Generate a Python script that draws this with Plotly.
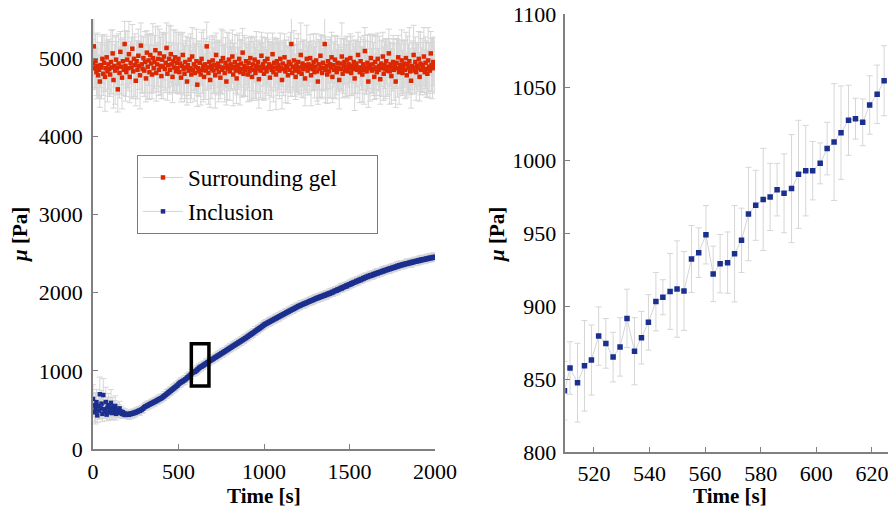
import plotly.graph_objects as go

# ---------------- data: left panel (full time course) ----------------
time_full = list(range(0, 2001, 5))

mu_gel = [
    4930, 5150, 4870, 4960, 4820, 4900, 4780, 4850, 4700, 4910, 4880, 4990, 4800, 4940, 4760, 4870, 5010, 4830, 4920, 4860,
    4790, 4950, 4880, 5060, 4720, 4900, 4840, 4980, 4870, 4600, 4930, 4810, 5080, 4890, 4750, 4960, 4850, 5180, 4900, 4820,
    4980, 4870, 5050, 4760, 4940, 4880, 5120, 4830, 4990, 4910, 4710, 4960, 4850, 5030, 4900, 4780, 5160, 4920, 4860, 5000,
    4840, 4950, 4740, 5070, 4890, 4970, 4820, 5040, 4930, 4790, 5000, 4870, 4950, 5100, 4810, 4920, 4990, 4850, 5060, 4900,
    4770, 4980, 4890, 5020, 4860, 4940, 5130, 4800, 4910, 4990, 4850, 5050, 4920, 4760, 4960, 4880, 5010, 4830, 4940, 4870,
    4990, 4820, 4930, 4750, 4900, 5040, 4860, 4800, 4950, 4880, 4700, 4910, 4840, 4980, 4870, 4790, 5020, 4850, 4920, 4810,
    4890, 4960, 4660, 4870, 4830, 4940, 4790, 4990, 4850, 4900, 4760, 4920, 4840, 5150, 4880, 4810, 4950, 4720, 4900, 4860,
    4970, 4840, 4910, 4780, 5040, 4870, 4930, 4820, 4890, 4750, 4960, 4850, 5000, 4880, 4810, 4940, 4700, 4900, 4860, 4980,
    4830, 4920, 4870, 5020, 4790, 4890, 4950, 4840, 4740, 4910, 4870, 4990, 4820, 4930, 4860, 5070, 4800, 4900, 4850, 4960,
    4880, 4790, 4940, 4830, 5000, 4870, 4760, 4920, 4850, 4980, 4810, 4900, 4860, 4950, 4730, 4890, 4840, 5030, 4870, 4920,
    4800, 4960, 4870, 4830, 4990, 4880, 4920, 4750, 4900, 4850, 5050, 4820, 4940, 4880, 4790, 4960, 4860, 4910, 4840, 4990,
    4870, 4720, 4930, 4860, 5010, 4830, 4900, 4880, 4780, 4950, 4850, 4920, 5180, 4810, 4890, 4970, 4840, 4760, 4910, 4870,
    4950, 4820, 4880, 5040, 4800, 4930, 4860, 4910, 4740, 4890, 4990, 4840, 4920, 4870, 5000, 4780, 4900, 4860, 4950, 4820,
    4890, 4970, 4830, 4700, 4920, 4860, 5030, 4880, 4810, 4940, 4870, 5180, 4850, 4900, 4790, 4960, 4830, 4920, 4880, 5010,
    4760, 4910, 4850, 4980, 4880, 4820, 4940, 4870, 4720, 4930, 4860, 5020, 4800, 4900, 4950, 4840, 4890, 4980, 4830, 4920,
    4870, 5000, 4810, 4900, 4860, 4950, 4740, 4890, 4930, 4850, 5040, 4880, 4820, 4960, 4870, 4790, 4920, 4850, 5090, 4880,
    4830, 4940, 4700, 4910, 4870, 5000, 4840, 4920, 4860, 4760, 4950, 4880, 4820, 4990, 4850, 4900, 4730, 4930, 4870, 5020,
    4800, 4910, 4860, 4960, 4840, 4890, 5060, 4830, 4920, 4770, 4880, 4950, 4850, 4900, 4700, 4940, 4870, 5010, 4820, 4910,
    4860, 4970, 4810, 4890, 4930, 4850, 5000, 4780, 4920, 4870, 4960, 4830, 4710, 4900, 4880, 5040, 4840, 4950, 4820, 4900,
    4870, 4990, 4760, 4930, 4850, 4910, 4880, 5020, 4820, 4940, 4860, 4800, 4970, 4890, 4840, 5060, 4910, 4870, 4950, 4880,
    4920,
]

err_gel = [
    310, 380, 270, 340, 300, 420, 260, 350, 330, 290, 400, 310, 280, 360, 440, 300, 270, 390, 320, 350,
    280, 410, 330, 300, 360, 270, 430, 310, 340, 290, 380, 320, 260, 350, 400, 300, 330, 290, 450, 310,
    360, 290, 420, 330, 270, 380, 310, 350, 280, 400, 320, 260, 370, 340, 300, 430, 290, 360, 310, 270,
    330, 390, 300, 280, 410, 320, 350, 270, 380, 310, 440, 290, 340, 300, 360, 280, 420, 330, 310, 370,
    290, 350, 410, 300, 270, 380, 320, 340, 290, 430, 310, 360, 280, 330, 400, 300, 350, 270, 390, 320,
    340, 280, 370, 310, 420, 290, 330, 360, 270, 400, 300, 350, 320, 280, 440, 310, 370, 290, 330, 360,
    300, 410, 280, 350, 320, 270, 390, 340, 300, 460, 290, 330, 370, 310, 280, 400, 320, 350, 290, 380,
    320, 290, 360, 420, 280, 340, 300, 380, 330, 270, 410, 310, 350, 290, 370, 320, 300, 430, 280, 340,
    370, 310, 280, 340, 400, 300, 350, 290, 320, 380, 270, 330, 420, 300, 360, 310, 280, 390, 340, 300,
    290, 350, 320, 380, 270, 410, 300, 340, 360, 290, 330, 440, 310, 280, 370, 320, 350, 300, 400, 280,
    340, 300, 390, 280, 330, 360, 290, 420, 310, 350, 270, 380, 320, 300, 450, 290, 340, 310, 360, 330,
    310, 370, 290, 340, 300, 400, 330, 280, 360, 320, 290, 410, 350, 300, 270, 380, 330, 290, 340, 310,
    360, 290, 330, 410, 300, 280, 370, 320, 350, 290, 430, 310, 280, 340, 300, 390, 320, 270, 360, 330,
    300, 340, 380, 290, 320, 360, 270, 400, 310, 350, 290, 330, 420, 300, 370, 280, 340, 310, 390, 320,
    330, 280, 360, 310, 400, 290, 340, 300, 370, 320, 280, 430, 310, 350, 290, 330, 380, 300, 340, 290,
    350, 310, 290, 380, 320, 270, 410, 340, 300, 360, 290, 330, 390, 310, 280, 350, 320, 440, 300, 340,
    290, 360, 330, 300, 420, 310, 280, 370, 340, 290, 350, 400, 300, 330, 270, 380, 320, 290, 360, 310,
    340, 300, 380, 290, 330, 360, 310, 420, 280, 350, 300, 340, 390, 290, 330, 310, 370, 280, 410, 300,
    320, 390, 290, 340, 300, 370, 330, 280, 360, 310, 430, 290, 350, 300, 340, 380, 290, 320, 360, 300,
    300, 350, 310, 400, 280, 340, 320, 370, 290, 330, 360, 300, 420, 310, 350, 280, 340, 390, 300, 330,
    350,
]

mu_inclusion = [
    640, 560, 470, 520, 600, 430, 550, 490, 700, 520, 580, 450, 690, 510, 480, 600, 440, 530, 560, 470,
    520, 590, 460, 540, 480, 510, 550, 450, 500, 470, 490, 520, 460, 480, 450, 470, 440, 455, 435, 445,
    440, 448, 437, 452, 446, 455, 450, 462, 458, 470, 466, 478, 474, 486, 490, 488, 500, 506, 512, 522,
    534, 542, 545, 553, 557, 565, 569, 577, 580, 588, 591, 600, 603, 611, 614, 623, 627, 636, 639, 647,
    651, 657, 668, 675, 687, 692, 703, 710, 722, 727, 739, 745, 756, 762, 774, 779, 791, 797, 809, 814,
    831, 838, 850, 853, 864, 866, 877, 880, 892, 898, 912, 918, 932, 934, 947, 958, 976, 978, 987, 989,
    996, 1003, 1016, 1023, 1037, 1043, 1052, 1054, 1064, 1068, 1080, 1083, 1095, 1098, 1110, 1113, 1124, 1128, 1139, 1142,
    1151, 1155, 1166, 1169, 1180, 1183, 1194, 1197, 1208, 1211, 1222, 1225, 1236, 1239, 1250, 1253, 1264, 1267, 1278, 1281,
    1292, 1295, 1306, 1309, 1320, 1323, 1334, 1337, 1348, 1351, 1362, 1365, 1376, 1379, 1390, 1393, 1404, 1407, 1418, 1421,
    1432, 1436, 1448, 1451, 1463, 1467, 1479, 1482, 1494, 1498, 1510, 1514, 1525, 1529, 1541, 1545, 1556, 1560, 1572, 1576,
    1590, 1592, 1602, 1604, 1614, 1616, 1626, 1628, 1638, 1640, 1650, 1652, 1662, 1664, 1674, 1676, 1686, 1688, 1698, 1700,
    1710, 1712, 1722, 1724, 1733, 1735, 1745, 1747, 1757, 1758, 1768, 1770, 1780, 1782, 1791, 1793, 1803, 1805, 1815, 1817,
    1827, 1828, 1837, 1838, 1846, 1847, 1856, 1857, 1865, 1866, 1875, 1876, 1884, 1885, 1894, 1895, 1903, 1904, 1913, 1914,
    1923, 1921, 1933, 1930, 1942, 1938, 1951, 1946, 1957, 1955, 1968, 1962, 1975, 1970, 1984, 1979, 1993, 1987, 2000, 1996,
    2010, 2006, 2021, 2019, 2030, 2024, 2042, 2035, 2048, 2047, 2061, 2053, 2071, 2066, 2078, 2075, 2091, 2082, 2099, 2097,
    2108, 2104, 2120, 2113, 2129, 2126, 2137, 2134, 2149, 2142, 2156, 2152, 2168, 2160, 2175, 2171, 2186, 2180, 2195, 2193,
    2205, 2199, 2213, 2208, 2221, 2215, 2228, 2222, 2238, 2231, 2244, 2239, 2253, 2246, 2261, 2255, 2267, 2262, 2276, 2270,
    2284, 2277, 2291, 2286, 2298, 2292, 2306, 2300, 2313, 2306, 2320, 2314, 2327, 2321, 2334, 2328, 2343, 2335, 2350, 2343,
    2356, 2349, 2362, 2355, 2368, 2361, 2374, 2367, 2378, 2372, 2385, 2377, 2391, 2382, 2396, 2389, 2402, 2395, 2406, 2400,
    2412, 2404, 2418, 2410, 2423, 2415, 2427, 2420, 2432, 2425, 2437, 2429, 2442, 2433, 2447, 2439, 2450, 2444, 2456, 2448,
    2458,
]

err_inclusion = [
    180, 150, 120, 200, 160, 90, 140, 110, 220, 130, 170, 100, 210, 120, 90, 190, 80, 130, 150, 100,
    140, 170, 90, 120, 100, 110, 130, 80, 90, 70, 80, 90, 60, 70, 60, 55, 50, 60, 45, 50,
    55, 48, 60, 45, 52, 40, 58, 47, 50, 43, 56, 49, 42, 53, 46, 58, 44, 51, 47, 55,
    42, 50, 46, 57, 44, 52, 48, 40, 55, 47, 51, 43, 58, 45, 49, 53, 41, 56, 48, 44,
    52, 46, 41, 55, 49, 43, 57, 47, 50, 44, 53, 48, 42, 56, 45, 51, 47, 54, 43, 50,
    47, 53, 44, 58, 42, 50, 46, 55, 49, 41, 54, 48, 45, 52, 43, 57, 46, 50, 44, 53,
    50, 44, 56, 47, 52, 43, 49, 55, 41, 53, 48, 46, 57, 44, 51, 47, 54, 42, 50, 45,
    46, 54, 43, 51, 48, 57, 44, 50, 53, 42, 49, 55, 45, 52, 47, 43, 56, 48, 51, 44,
    53, 47, 50, 42, 55, 46, 52, 44, 58, 48, 43, 51, 47, 54, 45, 50, 42, 56, 49, 46,
    44, 52, 48, 55, 41, 50, 46, 53, 47, 43, 57, 49, 45, 52, 48, 44, 55, 42, 51, 47,
    51, 45, 54, 47, 49, 43, 56, 48, 52, 45, 50, 42, 55, 47, 53, 44, 49, 57, 46, 50,
    47, 53, 44, 50, 56, 45, 51, 48, 42, 54, 46, 52, 49, 43, 57, 47, 50, 45, 53, 48,
    45, 50, 55, 43, 52, 47, 49, 56, 44, 51, 48, 42, 54, 46, 53, 50, 45, 57, 47, 52,
    52, 46, 49, 54, 42, 50, 47, 55, 45, 51, 48, 53, 43, 56, 46, 50, 52, 44, 49, 47,
    48, 55, 43, 50, 47, 53, 45, 52, 49, 41, 56, 47, 51, 44, 54, 48, 46, 52, 43, 50,
    53, 45, 51, 48, 56, 44, 50, 47, 52, 46, 43, 55, 49, 45, 53, 47, 51, 42, 54, 48,
    46, 52, 48, 44, 55, 50, 47, 53, 42, 51, 49, 45, 56, 48, 44, 52, 47, 50, 54, 46,
    50, 47, 54, 45, 51, 48, 43, 56, 49, 46, 52, 44, 50, 53, 47, 45, 55, 48, 51, 43,
    54, 48, 46, 52, 44, 50, 55, 47, 51, 45, 49, 53, 43, 56, 48, 46, 52, 50, 44, 51,
    47, 51, 55, 44, 50, 46, 53, 48, 42, 54, 49, 45, 52, 47, 56, 44, 50, 48, 53, 46,
    50,
]

# zoom window marked on the left panel
zoom_box_time = [575, 678]
zoom_box_mu = [805, 1345]

# ---------------- data: right panel (zoom on inclusion) ----------------
time_zoom = [509.4, 511.4, 514.1, 516.6, 519.1, 521.7, 524.3, 526.9, 529.4, 531.9,
             534.6, 537.1, 539.6, 542.3, 544.8, 547.4, 549.9, 552.4, 555.1, 557.7,
             560.3, 562.9, 565.4, 568.1, 570.6, 573.1, 575.6, 578.2, 580.9, 583.4,
             585.9, 588.4, 591.1, 593.6, 596.2, 598.7, 601.4, 603.9, 606.4, 608.9,
             611.6, 614.1, 616.7, 619.2, 621.9, 624.4]
mu_zoom = [842, 857.5, 847.5, 859, 863, 879.4, 874.4, 865, 872, 891.5,
           869, 878.3, 888.8, 903, 906, 910, 911.6, 910.3, 932.2, 936.5,
           948.8, 922, 929, 929.7, 935.8, 945, 963, 969, 973, 974.7,
           979.7, 977.2, 980.4, 990.2, 992.7, 992.7, 997.7, 1007.8, 1012.3, 1018.7,
           1027.2, 1028.3, 1025.8, 1037.7, 1045, 1054.3]
err_zoom = [20, 18, 27, 31, 24, 20, 17, 17, 20, 20,
            23, 18, 19, 20, 12, 26, 33, 27, 23, 17,
            20, 19, 20, 21, 33, 22, 32, 24, 35, 23,
            18, 27, 37, 37, 31, 20, 14, 18, 40, 32,
            24, 14, 16, 20, 20, 24]

legend_names = ["Surrounding gel", "Inclusion"]

# ---------------- styling ----------------
FONT = "Liberation Serif"
RED = "#dc2800"
BLUE = "#1b2f8f"
GREY_LINE = "#d4d4d4"
GREY_ERR = "#d6d6d6"
AXIS = "#808080"
W, H = 888, 510
PAD = "\u00a0" * 6  # extra room on the right of the legend text

fig = go.Figure()

fig.add_trace(go.Scatter(
    x=time_full, y=mu_gel, name=legend_names[0] + PAD, mode="lines+markers",
    line=dict(color=GREY_LINE, width=1),
    marker=dict(symbol="square", size=4.5, color=RED),
    error_y=dict(type="data", array=err_gel, color=GREY_ERR, thickness=1, width=3),
    legendgroup="g1", xaxis="x", yaxis="y"))

fig.add_trace(go.Scatter(
    x=time_full, y=mu_inclusion, name=legend_names[1], mode="lines+markers",
    line=dict(color=GREY_LINE, width=1),
    marker=dict(symbol="square", size=4.5, color=BLUE),
    error_y=dict(type="data", array=err_inclusion, color=GREY_ERR, thickness=1, width=3),
    legendgroup="g2", xaxis="x", yaxis="y"))

fig.add_trace(go.Scatter(
    x=time_zoom, y=mu_zoom, name="Inclusion (zoom)", mode="lines+markers",
    line=dict(color=GREY_LINE, width=1),
    marker=dict(symbol="square", size=5.5, color=BLUE),
    error_y=dict(type="data", array=err_zoom, color=GREY_ERR, thickness=1, width=3),
    showlegend=False, xaxis="x2", yaxis="y2"))

fig.add_shape(type="rect", xref="x", yref="y",
              x0=zoom_box_time[0], x1=zoom_box_time[1],
              y0=zoom_box_mu[0], y1=zoom_box_mu[1],
              line=dict(color="black", width=3.5))

axis_common = dict(showline=True, linecolor=AXIS, linewidth=1.5, ticks="inside",
                   ticklen=5, tickcolor=AXIS, tickwidth=1, showgrid=False,
                   zeroline=False, automargin=False, ticklabeloverflow="allow",
                   tickfont=dict(family=FONT, size=22, color="black"))

L_x = [93 / W, 435 / W]
L_y = [1 - 449 / H, 1 - 19 / H]
R_x = [565.3 / W, 1.0]
R_y = [1 - 452 / H, 1 - 14 / H]

fig.update_layout(
    width=W, height=H, margin=dict(l=0, r=0, t=0, b=0, pad=0),
    paper_bgcolor="white", plot_bgcolor="white",
    font=dict(family=FONT, color="black"),
    xaxis=dict(domain=L_x, range=[0, 2000], tickvals=[0, 500, 1000, 1500, 2000],
               anchor="y", ticklabelstandoff=2, **axis_common),
    yaxis=dict(domain=L_y, range=[0, 5500], tickvals=[0, 1000, 2000, 3000, 4000, 5000],
               anchor="x", ticklabelstandoff=4, **axis_common),
    xaxis2=dict(domain=R_x, range=[509.7, 625.8], tickvals=[520, 540, 560, 580, 600, 620],
                anchor="y2", ticklabelstandoff=1, **axis_common),
    yaxis2=dict(domain=R_y, range=[800, 1100], tickvals=[800, 850, 900, 950, 1000, 1050, 1100],
                anchor="x2", ticklabelstandoff=3, **axis_common),
    legend=dict(x=137 / W, y=1 - 155 / H, xanchor="left", yanchor="top",
                bgcolor="white", bordercolor="#7a7a7a", borderwidth=1,
                font=dict(family=FONT, size=23, color="black"),
                tracegroupgap=1, itemwidth=40),
    showlegend=True,
)

title_font = dict(family=FONT, size=21, color="black")
fig.add_annotation(text="<b>Time [s]</b>", xref="paper", yref="paper",
                   x=(L_x[0] + L_x[1]) / 2, y=1 - 496 / H, showarrow=False,
                   font=title_font, xanchor="center", yanchor="middle")
fig.add_annotation(text="<b>Time [s]</b>", xref="paper", yref="paper",
                   x=730 / W, y=1 - 496 / H, showarrow=False,
                   font=title_font, xanchor="center", yanchor="middle")
fig.add_annotation(text="<b><i>μ</i> [Pa]</b>", xref="paper", yref="paper",
                   x=20 / W, y=1 - 235 / H, showarrow=False, textangle=-90,
                   font=title_font, xanchor="center", yanchor="middle")
fig.add_annotation(text="<b><i>μ</i> [Pa]</b>", xref="paper", yref="paper",
                   x=497 / W, y=1 - 235 / H, showarrow=False, textangle=-90,
                   font=title_font, xanchor="center", yanchor="middle")

fig.write_html("out.html", config={"displayModeBar": False},
               post_script="document.body.style.margin='0';document.body.style.padding='0';")
